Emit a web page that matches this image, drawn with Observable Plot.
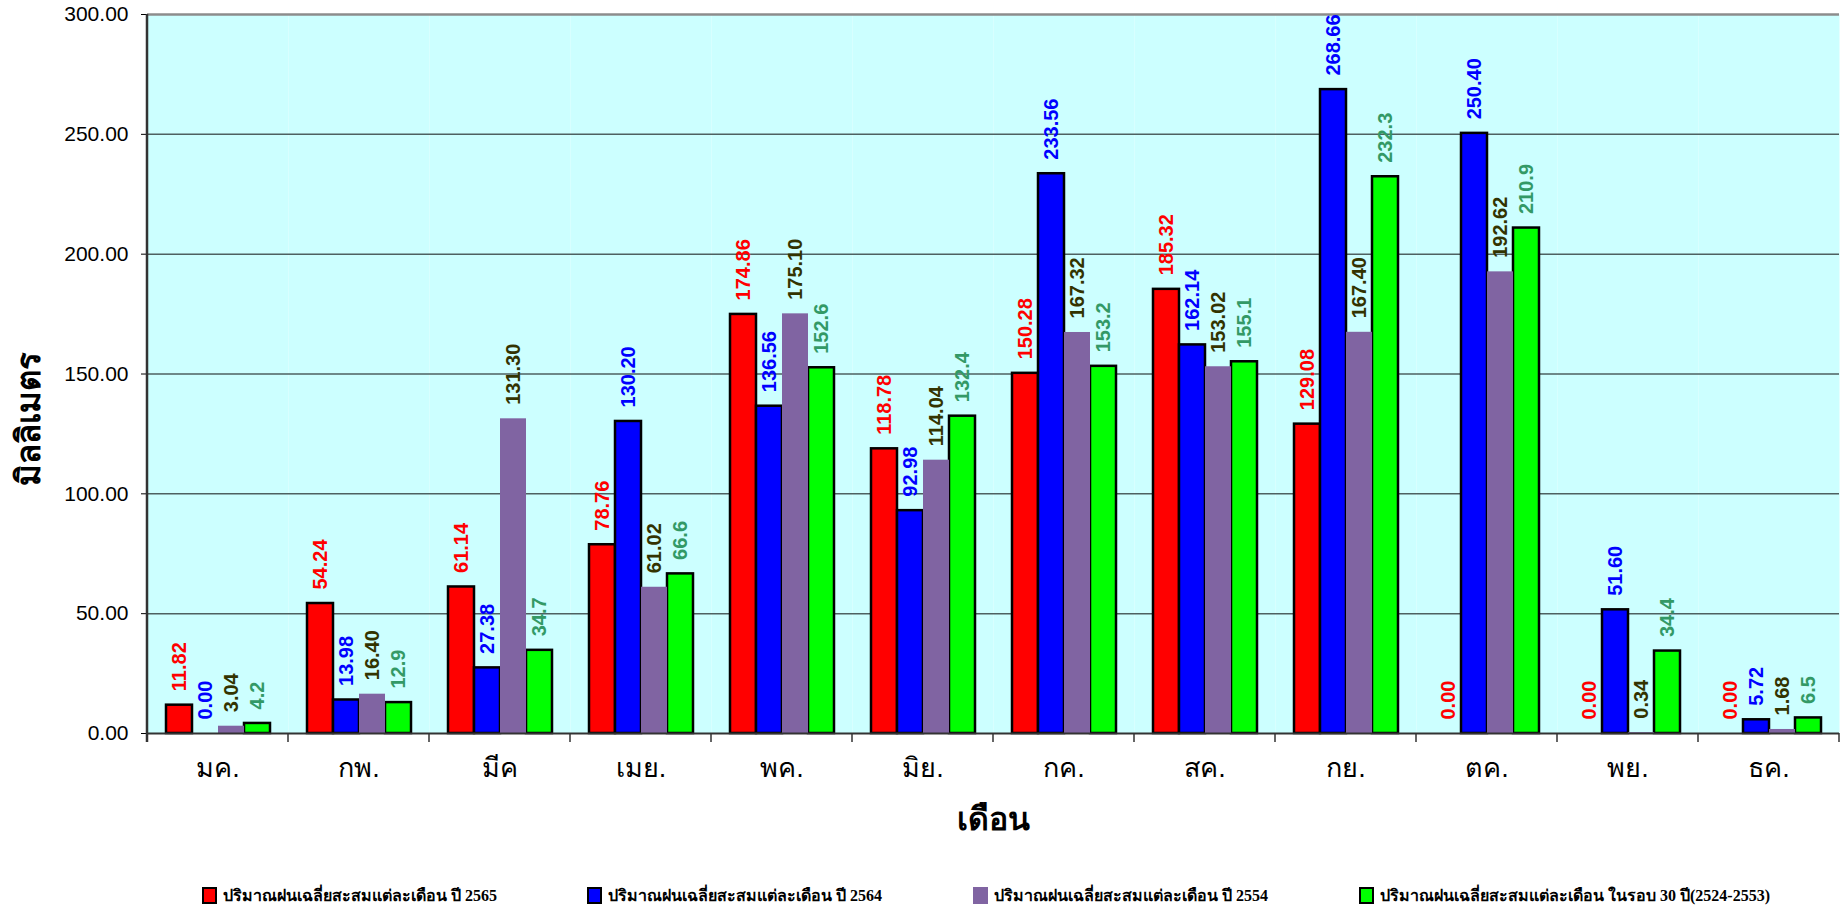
<!DOCTYPE html>
<html>
<head>
<meta charset="utf-8">
<script src="https://cdn.jsdelivr.net/npm/d3@7"></script>
<script src="https://cdn.jsdelivr.net/npm/@observablehq/plot@0.6"></script>
<style>
  html, body { margin: 0; padding: 0; background: #fff; }
  #chart svg { display: block; }
  g[aria-label="y-axis label"] { font-size: 33px; font-weight: bold; }
  g[aria-label="y-axis tick label"] { font-size: 21px; }
  g[aria-label="fx-axis label"] { font-size: 32px; font-weight: bold; }
  g[aria-label="fx-axis tick label"] { font-size: 27px; }
  #legend { position: relative; height: 38px; width: 1842px;
            font-family: "Liberation Serif", "DejaVu Serif", serif; font-weight: bold; font-size: 16px; color: #000; }
  .item { position: absolute; top: 13px; display: flex; align-items: center; white-space: nowrap; }
  .sw { width: 15px; height: 17px; box-sizing: border-box; margin-right: 6px; }
</style>
</head>
<body>
<div id="chart"></div>
<div id="legend"></div>
<script>
// ---- data ----
const months = ["มค.", "กพ.", "มีค", "เมย.", "พค.", "มิย.", "กค.", "สค.", "กย.", "ตค.", "พย.", "ธค."];
const series = [
  "ปริมาณฝนเฉลี่ยสะสมแต่ละเดือน ปี 2565",
  "ปริมาณฝนเฉลี่ยสะสมแต่ละเดือน ปี 2564",
  "ปริมาณฝนเฉลี่ยสะสมแต่ละเดือน ปี 2554",
  "ปริมาณฝนเฉลี่ยสะสมแต่ละเดือน ในรอบ 30 ปี(2524-2553)"
];
const rain2565 = [11.82, 54.24, 61.14, 78.76, 174.86, 118.78, 150.28, 185.32, 129.08, 0.00, 0.00, 0.00];
const rain2564 = [0.00, 13.98, 27.38, 130.20, 136.56, 92.98, 233.56, 162.14, 268.66, 250.40, 51.60, 5.72];
const rain2554 = [3.04, 16.40, 131.30, 61.02, 175.10, 114.04, 167.32, 153.02, 167.40, 192.62, 0.34, 1.68];
const rain30yr = [4.2, 12.9, 34.7, 66.6, 152.6, 132.4, 153.2, 155.1, 232.3, 210.9, 34.4, 6.5];
const labelDigits = [2, 2, 2, 1];
const yTicks = [0, 50, 100, 150, 200, 250, 300];
const gridTicks = [50, 100, 150, 200, 250];
const yTitle = "มิลลิเมตร";
const xTitle = "เดือน";

// ---- styles ----
const barColors = ["#FF0000", "#0000FF", "#8064A2", "#00FF00"];
const labelColors = ["#FF0000", "#0000FF", "#333300", "#339966"];
const stroked = [true, true, false, true];

const allValues = [rain2565, rain2564, rain2554, rain30yr];
const rows = [];
months.forEach((m, i) => {
  series.forEach((s, j) => {
    rows.push({month: m, series: s, si: j, value: allValues[j][i], label: allValues[j][i].toFixed(labelDigits[j])});
  });
});

const W = 1842, H = 870, ZERO = 733;

const chart = Plot.plot({
  width: W,
  height: H,
  marginLeft: 143,
  marginRight: 0,
  marginTop: 14,
  marginBottom: H - ZERO,
  style: {fontFamily: "'Liberation Sans', Arial, sans-serif", fontSize: "19px", color: "#000", background: "#fff", overflow: "visible"},
  facet: {data: rows, x: "month"},
  fx: {domain: months, padding: 0, axis: "bottom", label: xTitle, labelAnchor: "center", labelOffset: 96, labelArrow: "none", tickSize: 0, tickPadding: 24},
  x: {domain: series, axis: null, paddingInner: 0, paddingOuter: 0.7},
  y: {domain: [0, 300], ticks: yTicks, tickFormat: d => d.toFixed(2), label: yTitle, labelArrow: "none", labelAnchor: "center", labelOffset: 131, tickSize: 6, tickPadding: 13},
  color: {domain: series, range: barColors},
  marks: [
    Plot.frame({fill: "#CCFFFF", stroke: null}),
    Plot.ruleY(gridTicks, {stroke: "#4e6161", strokeWidth: 1.5}),
    Plot.ruleY([300], {stroke: "#8c8c8c", strokeWidth: 2.5}),
    Plot.barY(rows, {filter: d => d.value > 0 && stroked[d.si], x: "series", y: "value", fill: "series", stroke: "#000", strokeWidth: 2.5}),
    Plot.barY(rows, {filter: d => d.value > 0 && !stroked[d.si], x: "series", y: "value", fill: "series"}),
    Plot.ruleY([0], {stroke: "#333", strokeWidth: 2}),
    ...series.map((s, j) => Plot.text(rows, {
      filter: d => d.si === j,
      x: "series", y: "value", text: "label",
      rotate: -90, textAnchor: "start", dy: -14,
      fill: labelColors[j], fontWeight: "bold", fontSize: 20,
      fontFamily: "'Liberation Sans', Arial, sans-serif"
    }))
  ]
});

document.getElementById("chart").appendChild(chart);

// shift the y-axis title down to where the reference centres it (keep Plot's own transform)
const yl = d3.select(chart).select('g[aria-label="y-axis label"]');
const ylT = yl.attr("transform") || "";
yl.attr("transform", ("translate(0,45) " + ylT).trim());

// boundary ticks and left axis line, from the plot's own scales
const fxs = chart.scale("fx"), ys = chart.scale("y");
const edges = months.map(m => fxs.apply(m)).concat([fxs.apply(months[months.length - 1]) + fxs.bandwidth]);
const y0 = ys.apply(0), yTop = ys.apply(300);
const g = d3.select(chart).append("g").attr("aria-label", "category ticks");
g.selectAll("line.t").data(edges).join("line")
  .attr("x1", d => d).attr("x2", d => d)
  .attr("y1", y0).attr("y2", y0 + 9)
  .attr("stroke", "#333").attr("stroke-width", 1.5);
g.append("line")
  .attr("x1", edges[0]).attr("x2", edges[0])
  .attr("y1", yTop).attr("y2", y0 + 9)
  .attr("stroke", "#333").attr("stroke-width", 2.5);

// legend
const legend = d3.select("#legend");
const legendLeft = [202, 587, 973, 1359];
series.forEach((s, j) => {
  const it = legend.append("div").attr("class", "item").style("left", legendLeft[j] + "px");
  it.append("div").attr("class", "sw")
    .style("background", barColors[j])
    .style("border", stroked[j] ? "2.5px solid #000" : "none");
  it.append("span").text(s);
});
</script>
</body>
</html>
